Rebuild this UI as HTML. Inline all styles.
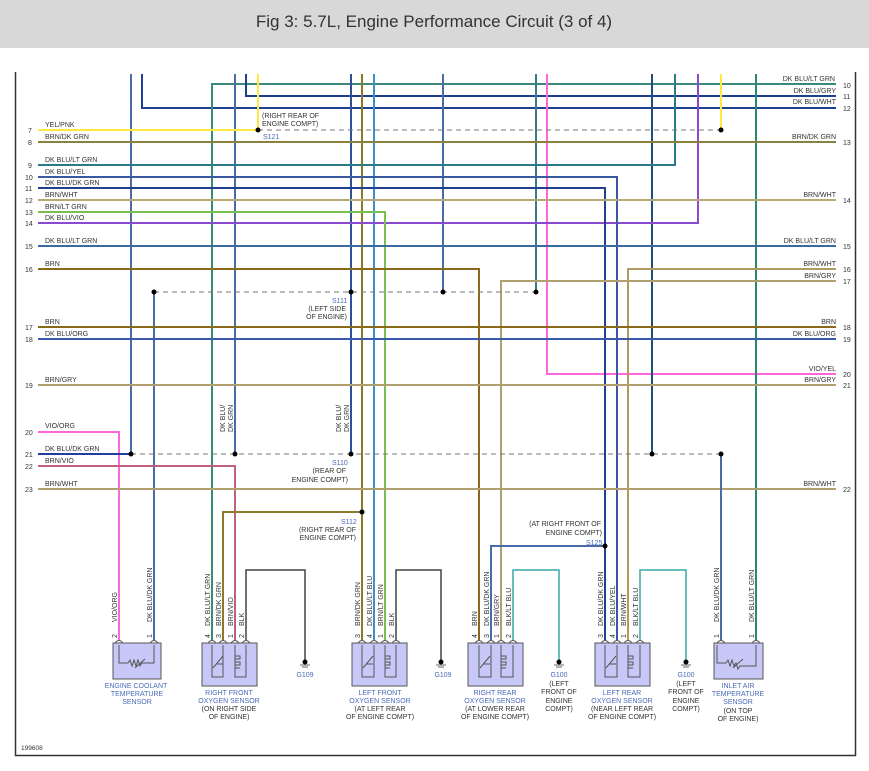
<!DOCTYPE html>
<html><head><meta charset="utf-8"><style>
html,body{margin:0;padding:0;background:#fff}
svg{display:block}
text{font-family:"Liberation Sans",Arial,sans-serif;fill:#333}
.l{font-size:7px}
.s{font-size:7px;fill:#4a6ab8}
.b{font-size:7px;fill:#4a6ab8;text-anchor:middle}
.c{font-size:7px;text-anchor:middle}
.r{font-size:7px;text-anchor:end}
</style></head><body>
<svg width="869" height="771" viewBox="0 0 869 771" xmlns="http://www.w3.org/2000/svg">
<rect x="0" y="0" width="869" height="48" fill="#d8d8d8"/>
<text x="434" y="27" font-size="17" text-anchor="middle" style="fill:#333">Fig 3: 5.7L, Engine Performance Circuit (3 of 4)</text>
<!-- frame -->
<path d="M15.5 72 V755.5 H855.5 V72" fill="none" stroke="#333" stroke-width="1.5"/>

<g fill="none" stroke-width="2">
<!-- top verticals / horizontals -->
<path d="M131 74 V454" stroke="#4a6aa8"/>
<path d="M142 74 V108 H836" stroke="#1f3f8f"/>
<path d="M212 640 V84 H836" stroke="#3a8a7a"/>
<path d="M235 74 V454" stroke="#4a6aa8"/>
<path d="M246 74 V96 H836" stroke="#1f3f8f"/>
<path d="M258 74 V130" stroke="#ffe840"/>
<path d="M351 74 V454" stroke="#2f4f9a"/>
<path d="M362 74 V640" stroke="#8a7a20"/>
<path d="M374 74 V640" stroke="#3a90c8"/>
<path d="M443 74 V292" stroke="#4a6aa8"/>
<path d="M536 74 V292" stroke="#3a7a8a"/>
<path d="M547 74 V374 H836" stroke="#ff66dd"/>
<path d="M652 74 V454" stroke="#1f4f7a"/>
<path d="M675 74 V165 H38" stroke="#2a7a8a"/>
<path d="M698 74 V223 H38" stroke="#8a4ad0"/>
<path d="M721 74 V130" stroke="#ffe840"/>
<path d="M756 74 V640" stroke="#2a8a6a"/>
<!-- left horizontals -->
<path d="M38 130 H258" stroke="#ffe840"/>
<path d="M38 142 H836" stroke="#8a8040"/>
<path d="M38 177 H617 V640" stroke="#3a5aa0"/>
<path d="M38 188 H605 V640" stroke="#1f3f8f"/>
<path d="M38 200 H836" stroke="#b8a878"/>
<path d="M38 212 H385 V640" stroke="#7ac050"/>
<path d="M38 246 H836" stroke="#3a6aa0"/>
<path d="M38 269 H479 V640" stroke="#8a6a1a"/>
<path d="M836 269 H628 V640" stroke="#b09a60"/>
<path d="M836 281 H501 V640" stroke="#b0a070"/>
<path d="M154 292 V640" stroke="#4a6aa8"/>
<path d="M38 327 H836" stroke="#8a6a1a"/>
<path d="M38 339 H836" stroke="#3a5aa8"/>
<path d="M38 385 H836" stroke="#b0a070"/>
<path d="M38 432 H119 V640" stroke="#ff66dd"/>
<path d="M38 454 H131" stroke="#1f3f9f"/>
<path d="M38 466 H235 V640" stroke="#c06080"/>
<path d="M38 489 H836" stroke="#b0a070"/>
<path d="M362 512 H223 V640" stroke="#8a7a30"/>
<path d="M605 546 H491 V640" stroke="#4a6aa8"/>
<path d="M721 454 V640" stroke="#4a6aa8"/>
</g>
<!-- dashed -->
<g stroke="#777" stroke-width="1" stroke-dasharray="5,4" fill="none">
<path d="M258 130 H721"/>
<path d="M154 292 H536"/>
<path d="M131 454 H721"/>
</g>
<!-- ground wires -->
<g fill="none" stroke-width="1.5">
<path d="M246 640 V570 H305 V660" stroke="#444"/>
<path d="M396 640 V570 H441 V660" stroke="#444"/>
<path d="M513 640 V570 H559 V660" stroke="#3aa8a8"/>
<path d="M640 640 V570 H686 V660" stroke="#3aa8a8"/>
</g>
<!-- splice dots -->
<g fill="#000">
<circle cx="258" cy="130" r="2.5"/><circle cx="721" cy="130" r="2.5"/>
<circle cx="154" cy="292" r="2.5"/><circle cx="351" cy="292" r="2.5"/><circle cx="443" cy="292" r="2.5"/><circle cx="536" cy="292" r="2.5"/>
<circle cx="131" cy="454" r="2.5"/><circle cx="235" cy="454" r="2.5"/><circle cx="351" cy="454" r="2.5"/><circle cx="652" cy="454" r="2.5"/><circle cx="721" cy="454" r="2.5"/>
<circle cx="362" cy="512" r="2.5"/><circle cx="605" cy="546" r="2.5"/>
<circle cx="305" cy="662" r="2.5"/><circle cx="441" cy="662" r="2.5"/><circle cx="559" cy="662" r="2.5"/><circle cx="686" cy="662" r="2.5"/>
</g>
<g stroke="#666" stroke-width="1">
<path d="M300 665 H310 M302 667 H308"/><path d="M436 665 H446 M438 667 H444"/>
<path d="M554 665 H564 M556 667 H562"/><path d="M681 665 H691 M683 667 H689"/>
</g>

<!-- left labels -->
<g class="l">
<text x="28" y="133">7</text><text x="45" y="127">YEL/PNK</text>
<text x="28" y="145">8</text><text x="45" y="139">BRN/DK GRN</text>
<text x="28" y="168">9</text><text x="45" y="162">DK BLU/LT GRN</text>
<text x="25" y="180">10</text><text x="45" y="174">DK BLU/YEL</text>
<text x="25" y="191">11</text><text x="45" y="185">DK BLU/DK GRN</text>
<text x="25" y="203">12</text><text x="45" y="197">BRN/WHT</text>
<text x="25" y="215">13</text><text x="45" y="209">BRN/LT GRN</text>
<text x="25" y="226">14</text><text x="45" y="220">DK BLU/VIO</text>
<text x="25" y="249">15</text><text x="45" y="243">DK BLU/LT GRN</text>
<text x="25" y="272">16</text><text x="45" y="266">BRN</text>
<text x="25" y="330">17</text><text x="45" y="324">BRN</text>
<text x="25" y="342">18</text><text x="45" y="336">DK BLU/ORG</text>
<text x="25" y="388">19</text><text x="45" y="382">BRN/GRY</text>
<text x="25" y="435">20</text><text x="45" y="428">VIO/ORG</text>
<text x="25" y="457">21</text><text x="45" y="451">DK BLU/DK GRN</text>
<text x="25" y="469">22</text><text x="45" y="463">BRN/VIO</text>
<text x="25" y="492">23</text><text x="45" y="486">BRN/WHT</text>
</g>
<!-- right labels -->
<g class="r">
<text x="835" y="81">DK BLU/LT GRN</text>
<text x="836" y="93">DK BLU/GRY</text>
<text x="836" y="104">DK BLU/WHT</text>
<text x="836" y="139">BRN/DK GRN</text>
<text x="836" y="197">BRN/WHT</text>
<text x="836" y="243">DK BLU/LT GRN</text>
<text x="836" y="266">BRN/WHT</text>
<text x="836" y="278">BRN/GRY</text>
<text x="836" y="324">BRN</text>
<text x="836" y="336">DK BLU/ORG</text>
<text x="836" y="371">VIO/YEL</text>
<text x="836" y="382">BRN/GRY</text>
<text x="836" y="486">BRN/WHT</text>
</g>
<g class="l">
<text x="843" y="88">10</text><text x="843" y="99">11</text><text x="843" y="111">12</text>
<text x="843" y="145">13</text><text x="843" y="203">14</text><text x="843" y="249">15</text>
<text x="843" y="272">16</text><text x="843" y="284">17</text><text x="843" y="330">18</text>
<text x="843" y="342">19</text><text x="843" y="377">20</text><text x="843" y="388">21</text>
<text x="843" y="492">22</text>
</g>
<!-- splice labels -->
<text class="l" x="262" y="118">(RIGHT REAR OF</text><text class="l" x="262" y="126">ENGINE COMPT)</text>
<text class="s" x="263" y="139">S121</text>
<text class="s" x="332" y="303">S111</text>
<text class="r" x="346" y="311">(LEFT SIDE</text><text class="r" x="347" y="319">OF ENGINE)</text>
<text class="s" x="332" y="465">S110</text>
<text class="r" x="346" y="473">(REAR OF</text><text class="r" x="348" y="482">ENGINE COMPT)</text>
<text class="s" x="341" y="524">S112</text>
<text class="r" x="356" y="532">(RIGHT REAR OF</text><text class="r" x="356" y="540">ENGINE COMPT)</text>
<text class="r" x="601" y="526">(AT RIGHT FRONT OF</text><text class="r" x="602" y="535">ENGINE COMPT)</text>
<text class="s" x="586" y="545">S125</text>
<!-- rotated mid labels -->
<g class="l">
<text transform="translate(225,432) rotate(-90)">DK BLU/</text>
<text transform="translate(233,432) rotate(-90)">DK GRN</text>
<text transform="translate(341,432) rotate(-90)">DK BLU/</text>
<text transform="translate(349,432) rotate(-90)">DK GRN</text>
</g>
<!-- sensor wire labels -->
<g class="l">
<text transform="translate(117,622) rotate(-90)">VIO/ORG</text>
<text transform="translate(152,622) rotate(-90)">DK BLU/DK GRN</text>
<text transform="translate(210,626) rotate(-90)">DK BLU/LT GRN</text>
<text transform="translate(221,626) rotate(-90)">BRN/DK GRN</text>
<text transform="translate(233,626) rotate(-90)">BRN/VIO</text>
<text transform="translate(244,626) rotate(-90)">BLK</text>
<text transform="translate(360,626) rotate(-90)">BRN/DK GRN</text>
<text transform="translate(372,626) rotate(-90)">DK BLU/LT BLU</text>
<text transform="translate(383,626) rotate(-90)">BRN/LT GRN</text>
<text transform="translate(394,626) rotate(-90)">BLK</text>
<text transform="translate(477,626) rotate(-90)">BRN</text>
<text transform="translate(489,626) rotate(-90)">DK BLU/DK GRN</text>
<text transform="translate(499,626) rotate(-90)">BRN/GRY</text>
<text transform="translate(511,626) rotate(-90)">BLK/LT BLU</text>
<text transform="translate(603,626) rotate(-90)">DK BLU/DK GRN</text>
<text transform="translate(615,626) rotate(-90)">DK BLU/YEL</text>
<text transform="translate(626,626) rotate(-90)">BRN/WHT</text>
<text transform="translate(638,626) rotate(-90)">BLK/LT BLU</text>
<text transform="translate(719,622) rotate(-90)">DK BLU/DK GRN</text>
<text transform="translate(754,622) rotate(-90)">DK BLU/LT GRN</text>
</g>
<!-- pin numbers -->
<g class="l">
<text transform="translate(117,638) rotate(-90)">2</text><text transform="translate(152,638) rotate(-90)">1</text>
<text transform="translate(210,638) rotate(-90)">4</text><text transform="translate(221,638) rotate(-90)">3</text><text transform="translate(233,638) rotate(-90)">1</text><text transform="translate(244,638) rotate(-90)">2</text>
<text transform="translate(360,638) rotate(-90)">3</text><text transform="translate(372,638) rotate(-90)">4</text><text transform="translate(383,638) rotate(-90)">1</text><text transform="translate(394,638) rotate(-90)">2</text>
<text transform="translate(477,638) rotate(-90)">4</text><text transform="translate(489,638) rotate(-90)">3</text><text transform="translate(499,638) rotate(-90)">1</text><text transform="translate(511,638) rotate(-90)">2</text>
<text transform="translate(603,638) rotate(-90)">3</text><text transform="translate(615,638) rotate(-90)">4</text><text transform="translate(626,638) rotate(-90)">1</text><text transform="translate(638,638) rotate(-90)">2</text>
<text transform="translate(719,638) rotate(-90)">1</text><text transform="translate(754,638) rotate(-90)">1</text>
</g>
<!-- sensor boxes -->
<g stroke="#555" stroke-width="1" fill="#c8c8f8">
<rect x="113" y="643" width="48" height="36"/>
<rect x="202" y="643" width="55" height="43"/>
<rect x="352" y="643" width="55" height="43"/>
<rect x="468" y="643" width="55" height="43"/>
<rect x="595" y="643" width="55" height="43"/>
<rect x="714" y="643" width="49" height="36"/>
</g>
<!-- pin arcs and internals -->
<g fill="none" stroke="#555" stroke-width="1">
<path d="M115 643 q4 -5 8 0 M150 643 q4 -5 8 0 M208 643 q4 -5 8 0 M219 643 q4 -5 8 0 M231 643 q4 -5 8 0 M242 643 q4 -5 8 0 M358 643 q4 -5 8 0 M370 643 q4 -5 8 0 M381 643 q4 -5 8 0 M392 643 q4 -5 8 0 M475 643 q4 -5 8 0 M487 643 q4 -5 8 0 M497 643 q4 -5 8 0 M509 643 q4 -5 8 0 M601 643 q4 -5 8 0 M613 643 q4 -5 8 0 M624 643 q4 -5 8 0 M636 643 q4 -5 8 0 M717 643 q4 -5 8 0 M752 643 q4 -5 8 0"/>
<path d="M119 645 V663 H128 l2 -3 2 6 2 -6 2 6 2 -6 2 6 2 -3 H154 V645 M135 668 l10 -9"/>
<path d="M717 645 V663 H726 l2 -3 2 6 2 -6 2 6 2 -3 2 6 2 -3 H756 V645 M733 668 l10 -9"/>
<path d="M212 645 V677 H223 V645 M213 668 l10 -12 M217 664 h6 M235 645 V677 H246 V645 M235 656 h5 v3 h-5 v3 h5 v3 h-5 v3 h5"/>
<path d="M362 645 V677 H374 V645 M363 668 l10 -12 M367 664 h6 M385 645 V677 H396 V645 M385 656 h5 v3 h-5 v3 h5 v3 h-5 v3 h5"/>
<path d="M479 645 V677 H491 V645 M480 668 l10 -12 M484 664 h6 M501 645 V677 H513 V645 M501 656 h5 v3 h-5 v3 h5 v3 h-5 v3 h5"/>
<path d="M605 645 V677 H617 V645 M606 668 l10 -12 M610 664 h6 M628 645 V677 H640 V645 M628 656 h5 v3 h-5 v3 h5 v3 h-5 v3 h5"/>
</g>
<!-- sensor names -->
<text class="b" x="136" y="688">ENGINE COOLANT</text><text class="b" x="137" y="696">TEMPERATURE</text><text class="b" x="137" y="704">SENSOR</text>
<text class="b" x="229" y="695">RIGHT FRONT</text><text class="b" x="229" y="703">OXYGEN SENSOR</text>
<text class="c" x="229" y="711">(ON RIGHT SIDE</text><text class="c" x="229" y="719">OF ENGINE)</text>
<text class="b" x="380" y="695">LEFT FRONT</text><text class="b" x="380" y="703">OXYGEN SENSOR</text>
<text class="c" x="380" y="711">(AT LEFT REAR</text><text class="c" x="380" y="719">OF ENGINE COMPT)</text>
<text class="b" x="495" y="695">RIGHT REAR</text><text class="b" x="495" y="703">OXYGEN SENSOR</text>
<text class="c" x="495" y="711">(AT LOWER REAR</text><text class="c" x="495" y="719">OF ENGINE COMPT)</text>
<text class="b" x="622" y="695">LEFT REAR</text><text class="b" x="622" y="703">OXYGEN SENSOR</text>
<text class="c" x="622" y="711">(NEAR LEFT REAR</text><text class="c" x="622" y="719">OF ENGINE COMPT)</text>
<text class="b" x="738" y="688">INLET AIR</text><text class="b" x="738" y="696">TEMPERATURE</text><text class="b" x="738" y="704">SENSOR</text>
<text class="c" x="738" y="713">(ON TOP</text><text class="c" x="738" y="721">OF ENGINE)</text>
<text class="b" x="305" y="677">G109</text><text class="b" x="443" y="677">G109</text>
<text class="b" x="559" y="677">G100</text><text class="c" x="559" y="686">(LEFT</text><text class="c" x="559" y="694">FRONT OF</text><text class="c" x="559" y="703">ENGINE</text><text class="c" x="559" y="711">COMPT)</text>
<text class="b" x="686" y="677">G100</text><text class="c" x="686" y="686">(LEFT</text><text class="c" x="686" y="694">FRONT OF</text><text class="c" x="686" y="703">ENGINE</text><text class="c" x="686" y="711">COMPT)</text>
<text class="l" x="21" y="750" style="font-size:6.5px">199608</text>
</svg>
</body></html>
